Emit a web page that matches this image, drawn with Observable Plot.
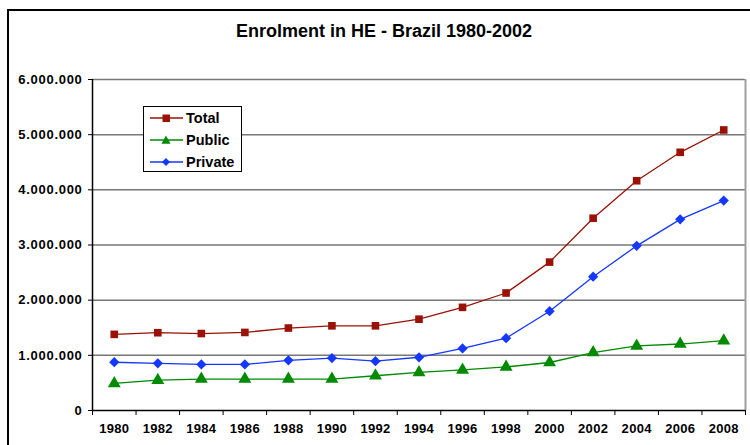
<!DOCTYPE html>
<html>
<head>
<meta charset="utf-8">
<script src="https://cdn.jsdelivr.net/npm/d3@7"></script>
<script src="https://cdn.jsdelivr.net/npm/@observablehq/plot@0.6"></script>
<style>
  html, body { margin: 0; padding: 0; background: #fff; }
  #page { position: relative; width: 750px; height: 445px; overflow: hidden; background: #fff; font-family: "Liberation Sans", Arial, sans-serif; }
  #frame { position: absolute; left: 7px; top: 9px; width: 800px; height: 500px; border: 2px solid #000; box-sizing: border-box; }
  #title { position: absolute; left: 0; top: 21px; width: 768px; text-align: center; font-weight: bold; font-size: 18px; color: #000; }
  #chart { position: absolute; left: 0; top: 0; }
  #legend { position: absolute; left: 143px; top: 106px; width: 99px; height: 66px; border: 1px solid #000; background: #fff; box-sizing: border-box; }
  .item { position: absolute; left: 6px; height: 20px; display: flex; align-items: center; font-weight: bold; font-size: 14.5px; }
  .item svg { margin-right: 3px; }
  g[aria-label="y-axis tick label"] text { font-size: 13px; letter-spacing: 0.7px; font-weight: bold; }
  g[aria-label="x-axis tick label"] text { font-size: 13px; letter-spacing: 0.3px; font-weight: bold; }
</style>
</head>
<body>
<div id="page">
  <div id="frame"></div>
  <div id="chart"></div>
  <div id="title">Enrolment in HE - Brazil 1980-2002</div>
  <div id="legend"></div>
</div>
<script>
// ---- data ----
const years = [1980, 1982, 1984, 1986, 1988, 1990, 1992, 1994, 1996, 1998, 2000, 2002, 2004, 2006, 2008];
const total = [1380000, 1410000, 1395000, 1415000, 1495000, 1535000, 1535000, 1655000, 1870000, 2130000, 2690000, 3485000, 4165000, 4680000, 5085000];
const publicE = [490000, 550000, 570000, 570000, 570000, 570000, 630000, 690000, 735000, 790000, 870000, 1050000, 1170000, 1205000, 1265000];
const privateE = [875000, 855000, 835000, 835000, 910000, 950000, 895000, 965000, 1125000, 1310000, 1800000, 2425000, 2985000, 3465000, 3805000];
const seriesNames = ["Total", "Public", "Private"];
const yTicks = [0, 1000000, 2000000, 3000000, 4000000, 5000000, 6000000];

const squareDiamond = {
  draw(ctx, size) {
    const r = Math.sqrt(size / 2);
    ctx.moveTo(0, -r); ctx.lineTo(r, 0); ctx.lineTo(0, r); ctx.lineTo(-r, 0); ctx.closePath();
  }
};
const colors = {Total: "#9a1206", Public: "#008a00", Private: "#1438ff"};
const symbols = {Total: "square", Public: "triangle", Private: squareDiamond};
const radii = {Total: 4.3, Public: 4.8, Private: 4.1};
const values = {Total: total, Public: publicE, Private: privateE};

const rows = seriesNames.flatMap(s => years.map((y, i) => ({series: s, year: y, value: values[s][i]})));
const boundaries = years.map(y => y - 1).concat([years[years.length - 1] + 1]);
const fmt = d3.formatLocale({decimal: ",", thousands: ".", grouping: [3], currency: ["", ""]}).format(",");

const lineMarks = seriesNames.map(s => Plot.line(rows.filter(r => r.series === s), {x: "year", y: "value", stroke: colors[s], strokeWidth: 1.3}));
const dotMarks = seriesNames.map(s => Plot.dot(rows.filter(r => r.series === s), {x: "year", y: "value", fill: colors[s], symbol: symbols[s], r: radii[s]}));

const chart = Plot.plot({
  width: 750,
  height: 445,
  marginLeft: 92,
  marginRight: 5,
  marginTop: 79,
  marginBottom: 35,
  x: {type: "linear", domain: [boundaries[0], boundaries[boundaries.length - 1]]},
  y: {domain: [0, 6000000]},
  style: {fontFamily: "'Liberation Sans', Arial, sans-serif", fontSize: "13px", fontWeight: "bold", color: "#000", background: "transparent", overflow: "visible"},
  marks: [
    Plot.gridY(yTicks.filter(d => d > 0), {stroke: "#777", strokeOpacity: 1, strokeWidth: 1.5}),
    Plot.ruleX([boundaries[boundaries.length - 1]], {stroke: "#a0a0a0", strokeWidth: 2}),
    Plot.ruleX([boundaries[0]], {stroke: "#000", strokeWidth: 1.5}),
    Plot.ruleY([0], {stroke: "#000", strokeWidth: 1.5}),
    Plot.axisY(yTicks, {tickSize: 4, tickPadding: 6, tickFormat: fmt, label: null, stroke: "#000", fontSize: 13, fontWeight: "bold"}),
    Plot.axisX(boundaries, {tickSize: 5, tickFormat: () => "", label: null, stroke: "#000"}),
    Plot.axisX(years, {tickSize: 0, tickPadding: 13, tickFormat: d => String(d), label: null, fontSize: 13, fontWeight: "bold"}),
    ...lineMarks,
    ...dotMarks
  ]
});
document.getElementById("chart").appendChild(chart);

// legend
const legend = document.getElementById("legend");
const symPaths = {
  Total: '<rect x="12.5" y="5.5" width="7.5" height="7.5" />',
  Public: '<path d="M16,4.5 L20.5,12.8 L11.5,12.8 Z" />',
  Private: '<path d="M16,5 L20,9 L16,13 L12,9 Z" />'
};
seriesNames.forEach((s, i) => {
  const div = document.createElement("div");
  div.className = "item";
  div.style.top = (1 + i * 22) + "px";
  div.innerHTML = `<svg width="33" height="18"><line x1="0" y1="9" x2="33" y2="9" stroke="${colors[s]}" stroke-width="1.3"/><g fill="${colors[s]}">${symPaths[s]}</g></svg><span>${s}</span>`;
  legend.appendChild(div);
});
</script>
</body>
</html>
